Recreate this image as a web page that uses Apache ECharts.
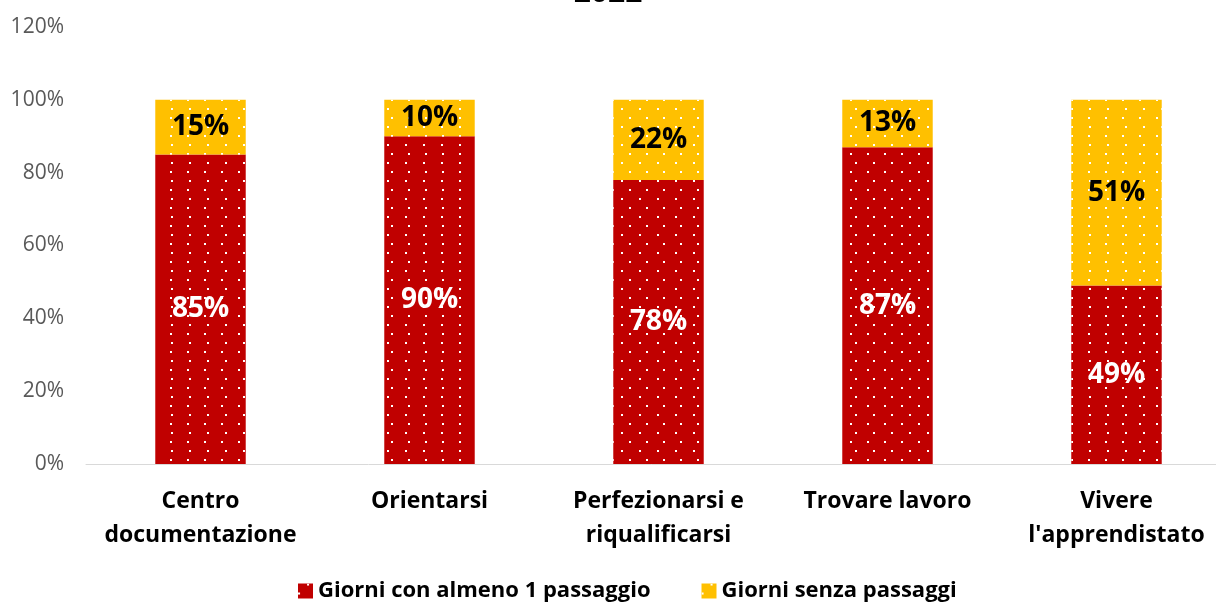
<!DOCTYPE html>
<html>
<head>
<meta charset="utf-8">
<script src="https://cdn.jsdelivr.net/npm/echarts@6/dist/echarts.min.js"></script>
<style>
html, body { margin: 0; padding: 0; background: #fff; }
#main { width: 1216px; height: 603px; }
</style>
</head>
<body>
<div id="main"></div>
<script>
var titolo = '2022';
var categorie = ['Centro\ndocumentazione', 'Orientarsi', 'Perfezionarsi e\nriqualificarsi', 'Trovare lavoro', 'Vivere\nl\'apprendistato'];
var conPassaggio = [85, 90, 78, 87, 49];
var senzaPassaggi = [15, 10, 22, 13, 51];
var nomiSerie = ['Giorni con almeno 1 passaggio', 'Giorni senza passaggi'];

var font = '"Open Sans", "Noto Sans", sans-serif';

// puntini bianchi come nel grafico originale
var puntini = {
    symbol: 'rect',
    symbolSize: 1,
    color: '#ffffff',
    dashArrayX: [[2, 15], [0, 8.5, 2, 6.5]],
    dashArrayY: [2, 6.7]
};

var myChart = echarts.init(document.getElementById('main'));

var option = {
    animation: false,
    textStyle: { fontFamily: font },
    title: {
        text: titolo,
        left: 'center',
        top: -27,
        textStyle: { fontSize: 30, fontWeight: 'bold', color: '#000', fontFamily: font }
    },
    legend: {
        bottom: -4,
        left: 293,
        icon: 'rect',
        itemWidth: 15,
        itemHeight: 15,
        itemGap: 51,
        textStyle: { fontSize: 22, fontWeight: 'bold', color: '#000', fontFamily: font },
        data: nomiSerie
    },
    grid: {
        left: 86,
        right: -15,
        top: 27,
        bottom: 139,
        outerBoundsMode: 'none'
    },
    xAxis: {
        type: 'category',
        data: categorie,
        axisLine: { lineStyle: { color: '#d9d9d9', width: 1 } },
        axisTick: { show: false },
        axisLabel: {
            interval: 0,
            margin: 20,
            fontSize: 23,
            fontWeight: 'bold',
            color: '#000',
            lineHeight: 34,
            fontFamily: font
        }
    },
    yAxis: {
        type: 'value',
        min: 0,
        max: 120,
        interval: 20,
        splitLine: { show: false },
        axisLine: { show: false },
        axisTick: { show: false },
        axisLabel: {
            formatter: '{value}%',
            fontSize: 21,
            color: '#595959',
            margin: 22,
            fontFamily: font
        }
    },
    series: [
        {
            name: nomiSerie[0],
            type: 'bar',
            stack: 'tot',
            barWidth: '39.5%',
            data: conPassaggio,
            itemStyle: { color: '#c00000', decal: puntini },
            label: {
                show: true,
                position: 'inside',
                formatter: '{c}%',
                fontSize: 28,
                fontWeight: 'bold',
                color: '#fff',
                fontFamily: font
            }
        },
        {
            name: nomiSerie[1],
            type: 'bar',
            stack: 'tot',
            barWidth: '39.5%',
            data: senzaPassaggi,
            itemStyle: { color: '#ffc000', decal: puntini },
            label: {
                show: true,
                position: 'inside',
                formatter: '{c}%',
                fontSize: 28,
                fontWeight: 'bold',
                color: '#000',
                fontFamily: font
            }
        }
    ]
};

myChart.setOption(option);
</script>
</body>
</html>
